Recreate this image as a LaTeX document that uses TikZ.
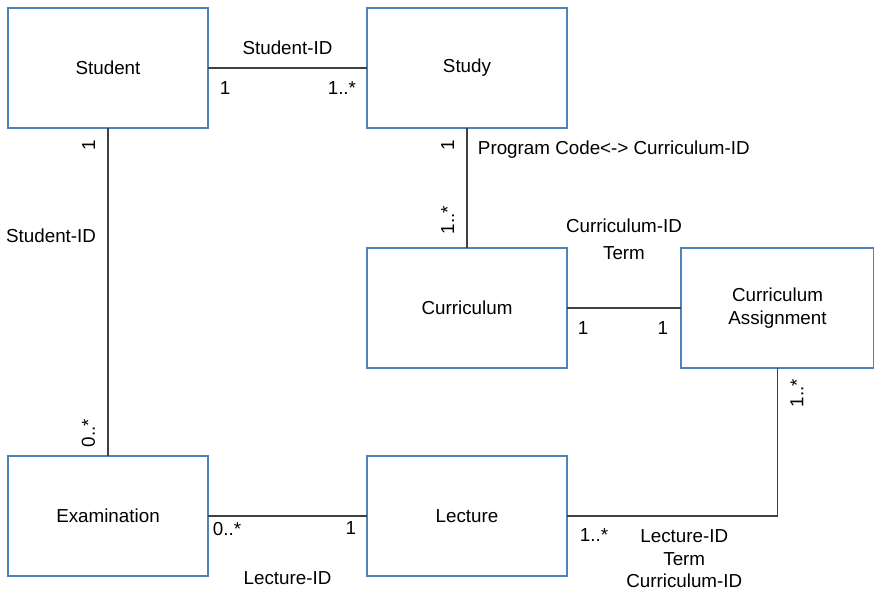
\documentclass[tikz,border=0pt]{standalone}
\usepackage{fontspec}
\setmainfont{Liberation Sans}
\usetikzlibrary{positioning}
\definecolor{boxblue}{HTML}{4F81BD}
\definecolor{linegray}{HTML}{404040}
\tikzstyle{entity} = [rectangle, draw=boxblue, line width=1.1pt, minimum width=4cm, minimum height=2.4cm, align=center, inner sep=0pt, outer sep=0pt]
\tikzstyle{link} = [draw=linegray, line width=1.1pt]
\tikzstyle{card} = [inner sep=0pt, align=center]

\begin{document}
\begin{tikzpicture}[font=\fontsize{10.7}{12.8}\selectfont]
    \useasboundingbox (0,0) rectangle (17.48,-11.82);
    \node (student) [entity] at (2.16,-1.36) {Student};
    \node (study) [entity, right=3.18cm of student] {Study};
    \node (curriculum) [entity, below=2.4cm of study] {Curriculum};
    \node (assignment) [entity, right=2.28cm of curriculum, minimum width=3.86cm] {Curriculum\\Assignment};
    \node (examination) [entity, below=6.56cm of student] {Examination};
    \node (lecture) [entity, right=3.18cm of examination] {Lecture};
    \draw [link] (student) -- node[card, above=0.24cm] {Student-ID}
      node[card, pos=0, below right=0.26cm and 0.22cm] {1}
      node[card, pos=1, below left=0.26cm and 0.2cm] {1..*} (study);
    \draw [link] (student) -- node[card, pos=0.33, left=0.22cm] {Student-ID}
      node[card, pos=0, xshift=-0.24cm, yshift=-0.22cm, rotate=90, anchor=south east] {1}
      node[card, pos=1, xshift=-0.24cm, yshift=0.16cm, rotate=90, anchor=south west] {0..*} (examination);
    \draw [link] (study) -- node[card, pos=0, xshift=0.2cm, yshift=-0.24cm, anchor=north west] {Program Code<-> Curriculum-ID}
      node[card, pos=0, xshift=-0.24cm, yshift=-0.22cm, rotate=90, anchor=south east] {1}
      node[card, pos=1, xshift=-0.24cm, yshift=0.26cm, rotate=90, anchor=south west] {1..*} (curriculum);
    \draw [link] (curriculum) -- node[card, above=0.94cm] {Curriculum-ID\\[0.1cm]Term}
      node[card, pos=0, below right=0.26cm and 0.2cm] {1}
      node[card, pos=1, below left=0.26cm and 0.24cm] {1} (assignment);
    \draw [link] (examination) -- node[card, below=1.1cm] {Lecture-ID}
      node[card, pos=0, below right=0.1cm and 0.08cm] {0..*}
      node[card, pos=1, below left=0.1cm and 0.2cm] {1} (lecture);
    \draw [link] (lecture) -- node[card, below=0.26cm, xshift=0.24cm] {Lecture-ID\\Term\\Curriculum-ID}
      node[card, pos=0, below right=0.24cm and 0.24cm] {1..*} (lecture -| assignment)
      -- node[card, pos=1, xshift=0.24cm, yshift=-0.2cm, rotate=90, anchor=north east] {1..*} (assignment);
\end{tikzpicture}
\end{document}
